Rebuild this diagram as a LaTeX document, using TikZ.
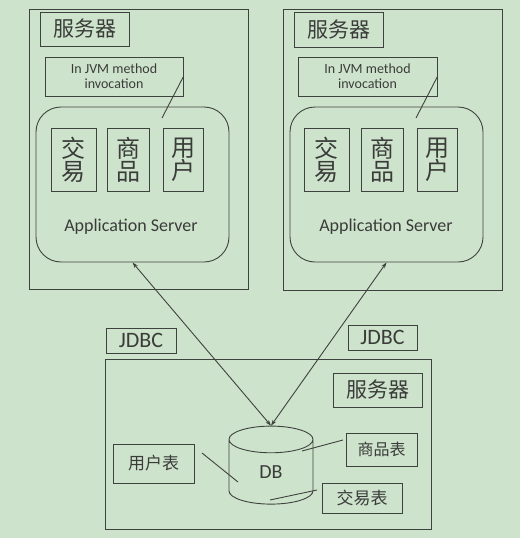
\documentclass[tikz,border=0pt]{standalone}
\usepackage{fontspec}
\setmainfont{Carlito}
\newfontfamily\cjk{Noto Sans CJK SC}
\usetikzlibrary{arrows.meta,positioning,shapes.geometric}
\definecolor{bgc}{RGB}{206,227,204}
\definecolor{linec}{RGB}{62,66,62}
\definecolor{textc}{RGB}{58,60,58}

\begin{document}
\begin{tikzpicture}[
  x=1pt,y=-1pt,
  box/.style={draw=linec,line width=0.9pt,inner sep=0pt,text=textc,align=center},
  appbox/.style={box,rounded corners=25pt},
  tag/.style={box,font=\cjk\fontsize{21}{21}\selectfont},
  mod/.style={box,minimum height=63pt,font=\cjk\fontsize{24}{23}\selectfont},
  tbl/.style={box,font=\cjk\fontsize{17}{17}\selectfont},
  jvm/.style={box,font=\fontsize{14}{15}\selectfont},
  arr/.style={{Stealth[length=6pt,width=4pt]}-{Stealth[length=6pt,width=4pt]},draw=linec,line width=0.9pt},
  lnk/.style={draw=linec,line width=0.9pt}
]
\fill[bgc] (0,0) rectangle (520,538);
\useasboundingbox (0,0) rectangle (520,538);

% left server
\node[box,minimum width=219pt,minimum height=280pt] (srvL) at (138.5,149) {};
\node[tag,minimum width=89pt,minimum height=34pt] (tagL) at (84.5,29) {服务器};
\node[jvm,minimum width=138pt,minimum height=39pt] (jvmL) at (114,76.5) {In JVM method\\invocation};
\node[appbox,minimum width=193pt,minimum height=155pt] (appL) at (132.5,184.5) {};
\node[mod,minimum width=45pt] (trL) at (73.5,159.5) {交\\易};
\node[mod,minimum width=42pt] (goodsL) at (128,159.5) {商\\品};
\node[mod,minimum width=40pt] (userL) at (183,159.5) {用\\户};
\node[text=textc,font=\fontsize{18}{18}\selectfont] (asL) at (131,227) {Application Server};
\coordinate (footL) at (162,118);
\draw[lnk] (footL) -- (jvmL.east);

% right server
\node[box,minimum width=219pt,minimum height=281pt] (srvR) at (392.5,149.5) {};
\node[tag,minimum width=89pt,minimum height=35pt] (tagR) at (338.5,29.5) {服务器};
\node[jvm,minimum width=139pt,minimum height=39pt] (jvmR) at (367.5,76.5) {In JVM method\\invocation};
\node[appbox,minimum width=193pt,minimum height=155pt] (appR) at (386.5,184.5) {};
\node[mod,minimum width=45pt] (trR) at (326.5,159.5) {交\\易};
\node[mod,minimum width=42pt] (goodsR) at (382,159.5) {商\\品};
\node[mod,minimum width=40pt] (userR) at (437,159.5) {用\\户};
\node[text=textc,font=\fontsize{18}{18}\selectfont] (asR) at (386,227) {Application Server};
\coordinate (footR) at (416,118);
\draw[lnk] (footR) -- (jvmR.east);

% database server
\node[box,minimum width=326pt,minimum height=170pt] (dbsrv) at (268,444) {};
\node[box,minimum width=70pt,minimum height=25pt,font=\fontsize{22}{22}\selectfont] (jdbcL) at (141,340.5) {JDBC};
\node[box,minimum width=69pt,minimum height=25pt,font=\fontsize{22}{22}\selectfont] (jdbcR) at (382.5,337.5) {JDBC};
\node[tag,minimum width=89pt,minimum height=34pt] (tagB) at (377.5,390) {服务器};
\node[box,cylinder,shape border rotate=90,aspect=1.15,minimum width=84pt,minimum height=78pt,
      font=\fontsize{20}{20}\selectfont] (db) at (271,472) {DB};
\node[tbl,minimum width=81pt,minimum height=39pt] (userT) at (153.5,463.5) {用户表};
\node[tbl,minimum width=71pt,minimum height=33pt,font=\cjk\fontsize{16}{16}\selectfont] (goodsT) at (381.5,449.5) {商品表};
\node[tbl,minimum width=80pt,minimum height=30pt] (tradeT) at (362,498) {交易表};

\coordinate (uA) at (202,453);
\coordinate (uB) at (238,482);
\coordinate (gA) at (302,451);
\coordinate (gB) at (343,440);
\coordinate (tA) at (270,500);
\coordinate (tB) at (317,490);
\draw[lnk] (uA) -- (uB);
\draw[lnk] (gA) -- (gB);
\draw[lnk] (tA) -- (tB);

\draw[arr] (appL.south) -- (db.north);
\draw[arr] (appR.south) -- (db.north);
\end{tikzpicture}
\end{document}
